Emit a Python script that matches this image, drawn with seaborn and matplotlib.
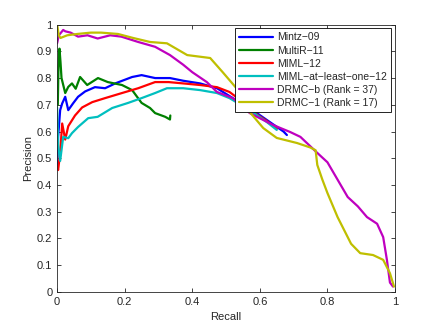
import pandas as pd
import matplotlib
matplotlib.use('Agg')
import matplotlib.pyplot as plt
import seaborn as sns

# precision / recall curves
mintz_recall = [0.0, 0.003, 0.009, 0.015, 0.024, 0.033, 0.047, 0.062, 0.083, 0.112, 0.142,
                0.172, 0.222, 0.25, 0.29, 0.334, 0.373, 0.423, 0.473, 0.52, 0.55, 0.59,
                0.63, 0.67, 0.68]
mintz_prec = [0.47, 0.58, 0.68, 0.705, 0.73, 0.68, 0.705, 0.73, 0.75, 0.766, 0.762,
              0.78, 0.804, 0.811, 0.80, 0.80, 0.79, 0.78, 0.762, 0.725, 0.70, 0.67,
              0.635, 0.60, 0.587]

multir_recall = [0.002, 0.004, 0.007, 0.01, 0.013, 0.015, 0.024, 0.033, 0.044, 0.055, 0.068,
                 0.089, 0.121, 0.15, 0.192, 0.222, 0.25, 0.275, 0.29, 0.32, 0.334, 0.335]
multir_prec = [0.70, 0.84, 0.91, 0.86, 0.80, 0.79, 0.744, 0.767, 0.78, 0.76, 0.804,
               0.774, 0.80, 0.785, 0.774, 0.755, 0.707, 0.688, 0.669, 0.655, 0.645, 0.66]

miml_recall = [0.0, 0.003, 0.009, 0.015, 0.024, 0.033, 0.053, 0.074, 0.104, 0.142, 0.192,
               0.24, 0.29, 0.33, 0.373, 0.423, 0.473, 0.51, 0.54, 0.58, 0.62, 0.65]
miml_prec = [0.47, 0.456, 0.52, 0.63, 0.57, 0.62, 0.66, 0.69, 0.71, 0.725, 0.744,
             0.762, 0.785, 0.785, 0.78, 0.774, 0.766, 0.748, 0.72, 0.673, 0.64, 0.61]

atleast_recall = [0.0, 0.003, 0.009, 0.018, 0.033, 0.044, 0.062, 0.092, 0.12, 0.163, 0.21,
                  0.25, 0.29, 0.325, 0.373, 0.423, 0.473, 0.51, 0.57, 0.62, 0.65]
atleast_prec = [0.69, 0.55, 0.49, 0.58, 0.575, 0.594, 0.617, 0.65, 0.655, 0.688, 0.707,
                0.725, 0.744, 0.762, 0.762, 0.755, 0.744, 0.725, 0.68, 0.636, 0.606]

drmcb_recall = [0.0, 0.005, 0.018, 0.024, 0.04, 0.062, 0.09, 0.12, 0.157, 0.19, 0.24,
                0.29, 0.334, 0.373, 0.40, 0.443, 0.473, 0.52, 0.57, 0.64, 0.69, 0.72,
                0.77, 0.80, 0.83, 0.86, 0.89, 0.917, 0.947, 0.965, 0.976, 0.985, 0.994]
drmcb_prec = [0.93, 0.96, 0.98, 0.975, 0.97, 0.955, 0.96, 0.948, 0.96, 0.955, 0.935,
              0.917, 0.886, 0.85, 0.822, 0.785, 0.748, 0.725, 0.669, 0.624, 0.598, 0.58,
              0.52, 0.485, 0.42, 0.355, 0.32, 0.28, 0.255, 0.205, 0.12, 0.035, 0.02]

drmc1_recall = [0.0, 0.005, 0.01, 0.03, 0.06, 0.1, 0.13, 0.18, 0.225, 0.275, 0.325,
                0.385, 0.453, 0.49, 0.53, 0.57, 0.61, 0.65, 0.71, 0.75, 0.765, 0.77,
                0.785, 0.80, 0.83, 0.87, 0.897, 0.935, 0.965, 0.985, 0.997]
drmc1_prec = [1.0, 0.96, 0.95, 0.96, 0.965, 0.97, 0.97, 0.965, 0.95, 0.935, 0.93,
              0.886, 0.875, 0.822, 0.763, 0.673, 0.613, 0.576, 0.557, 0.54, 0.53, 0.475,
              0.42, 0.37, 0.28, 0.18, 0.145, 0.138, 0.12, 0.07, 0.02]

methods = ['Mintz\u221209', 'MultiR\u221211', 'MIML\u221212', 'MIML\u2212at\u2212least\u2212one\u221212',
           'DRMC\u2212b (Rank = 37)', 'DRMC\u22121 (Rank = 17)']
curves = [(mintz_recall, mintz_prec), (multir_recall, multir_prec), (miml_recall, miml_prec),
          (atleast_recall, atleast_prec), (drmcb_recall, drmcb_prec), (drmc1_recall, drmc1_prec)]
colors = ['#0000ff', '#008000', '#ff0000', '#00bfbf', '#bf00bf', '#bfbf00']

df = pd.concat([pd.DataFrame({'Recall': r, 'Precision': p, 'method': name})
                for name, (r, p) in zip(methods, curves)], ignore_index=True)

sns.set_style('ticks')
plt.rcParams['font.family'] = ['Liberation Sans', 'DejaVu Sans']
plt.rcParams['xtick.direction'] = 'in'
plt.rcParams['ytick.direction'] = 'in'

fig = plt.figure(figsize=(4.36, 3.28), dpi=100)
ax = fig.add_axes([0.131, 0.110, 0.775, 0.815])
sns.lineplot(data=df, x='Recall', y='Precision', hue='method', hue_order=methods,
             palette=dict(zip(methods, colors)), estimator=None, sort=False,
             linewidth=1.6, legend=False, ax=ax)

ax.set_xlim(0, 1)
ax.set_ylim(0, 1)
ax.set_xticks([0, 0.2, 0.4, 0.6, 0.8, 1])
ax.set_xticklabels(['0', '0.2', '0.4', '0.6', '0.8', '1'])
ax.set_yticks([i / 10 for i in range(11)])
ax.set_yticklabels(['0'] + ['0.%d' % i for i in range(1, 10)] + ['1'])
ax.tick_params(labelsize=8, top=True, right=True, length=3, width=0.6)
for s in ax.spines.values():
    s.set_linewidth(0.6)
ax.set_xlabel('Recall', fontsize=8, labelpad=4)
ax.set_ylabel('Precision', fontsize=8, labelpad=3)

handles = [plt.Line2D([], [], color=c, linewidth=1.6) for c in colors]
leg = ax.legend(handles, methods, loc='upper right', fontsize=7.5, frameon=True,
                fancybox=False, edgecolor='black', framealpha=1, borderaxespad=0.35,
                handlelength=3.3, handletextpad=0.4, labelspacing=0.3, borderpad=0.4)
leg.get_frame().set_linewidth(0.6)

fig.savefig('out.png', dpi=100)
